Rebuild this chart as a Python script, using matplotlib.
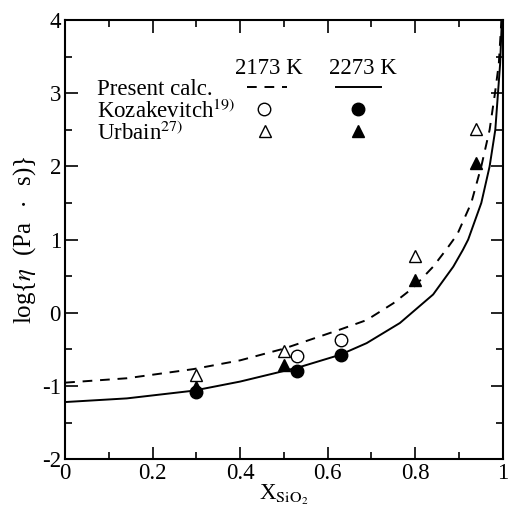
import matplotlib
matplotlib.use("Agg")
import matplotlib.pyplot as plt
from matplotlib.ticker import MultipleLocator, FixedLocator

plt.rcParams['font.family'] = ['Liberation Serif', 'DejaVu Serif']
plt.rcParams['mathtext.fontset'] = 'stix'

# Calculated curves
calc_2173_x = [0.0, 0.141, 0.293, 0.4, 0.5, 0.537, 0.628, 0.689, 0.75, 0.795, 0.841, 0.873,
               0.896, 0.928, 0.951, 0.970, 0.982, 0.991, 0.997]
calc_2173_y = [-0.955, -0.895, -0.77, -0.65, -0.49, -0.415, -0.23, -0.10, 0.13, 0.34, 0.63, 0.88,
               1.07, 1.5, 2.0, 2.5, 2.99, 3.4, 4.0]
calc_2273_x = [0.0, 0.141, 0.293, 0.4, 0.483, 0.537, 0.628, 0.689, 0.765, 0.841, 0.887, 0.909,
               0.921, 0.951, 0.970, 0.983, 0.989, 0.994, 0.998]
calc_2273_y = [-1.22, -1.17, -1.065, -0.94, -0.82, -0.74, -0.575, -0.415, -0.14, 0.25, 0.63, 0.86,
               1.0, 1.5, 2.0, 2.5, 2.99, 3.4, 4.0]

# Experimental data
koz_2173_x = [0.53, 0.63]
koz_2173_y = [-0.59, -0.37]
koz_2273_x = [0.30, 0.53, 0.63]
koz_2273_y = [-1.08, -0.80, -0.58]
urb_2173_x = [0.30, 0.50, 0.80, 0.94]
urb_2173_y = [-0.85, -0.52, 0.78, 2.51]
urb_2273_x = [0.30, 0.50, 0.80, 0.94]
urb_2273_y = [-1.01, -0.72, 0.45, 2.04]

x_ticks = [0, 0.2, 0.4, 0.6, 0.8, 1.0]
x_ticklabels = ['0', '0.2', '0.4', '0.6', '0.8', '1']
y_ticks = [-2, -1, 0, 1, 2, 3, 4]
y_ticklabels = ['-2', '-1', '0', '1', '2', '3', '4']

fig = plt.figure(figsize=(5.13, 5.13), dpi=100)
ax = fig.add_axes([0.127, 0.105, 0.853, 0.856])

ax.plot(calc_2173_x, calc_2173_y, color='black', lw=1.4, dashes=(5, 4))
ax.plot(calc_2273_x, calc_2273_y, color='black', lw=1.4)

ms = 9
ax.plot(urb_2273_x, urb_2273_y, '^', color='black', ms=ms, ls='none')
ax.plot(urb_2173_x, urb_2173_y, '^', mfc='white', mec='black', mew=1.0, ms=ms, ls='none')
ax.plot(koz_2173_x, koz_2173_y, 'o', mfc='white', mec='black', mew=1.0, ms=ms, ls='none')
ax.plot(koz_2273_x, koz_2273_y, 'o', color='black', ms=ms, ls='none')

# Legend drawn as annotations
fs = 16.5
ax.text(0.073, 2.97, 'Present calc.', fontsize=fs, va='baseline', ha='left')
ax.text(0.073, 2.66, r'Kozakevitch$^{19)}$', fontsize=fs, va='baseline', ha='left')
ax.text(0.073, 2.36, r'Urbain$^{27)}$', fontsize=fs, va='baseline', ha='left')
ax.text(0.466, 3.26, '2173 K', fontsize=fs, va='baseline', ha='center')
ax.text(0.680, 3.26, '2273 K', fontsize=fs, va='baseline', ha='center')
ax.plot([0.416, 0.507], [3.08, 3.08], color='black', lw=1.4, dashes=(5, 4))
ax.plot([0.619, 0.721], [3.08, 3.08], color='black', lw=1.4)
ax.plot([0.454], [2.78], 'o', mfc='white', mec='black', mew=1.0, ms=ms)
ax.plot([0.669], [2.78], 'o', color='black', ms=ms)
ax.plot([0.456], [2.48], '^', mfc='white', mec='black', mew=1.0, ms=ms)
ax.plot([0.669], [2.48], '^', color='black', ms=ms)

ax.set_xlim(0, 1)
ax.set_ylim(-2, 4)
ax.xaxis.set_major_locator(FixedLocator(x_ticks))
ax.xaxis.set_minor_locator(MultipleLocator(0.1))
ax.yaxis.set_major_locator(FixedLocator(y_ticks))
ax.yaxis.set_minor_locator(MultipleLocator(0.5))
ax.set_xticklabels(x_ticklabels)
ax.set_yticklabels(y_ticklabels)
ax.tick_params(which='both', direction='in', top=True, right=True, labelsize=fs, width=1.2)
ax.tick_params(which='major', length=9)
ax.tick_params(which='minor', length=5)
ax.tick_params(axis='x', pad=3)
ax.tick_params(axis='y', pad=3)
for s in ax.spines.values():
    s.set_linewidth(1.5)

ax.set_xlabel(r'X$_{\mathrm{SiO}_2}$', fontsize=fs, labelpad=-1)
ax.set_ylabel(r'log{$\eta$  (Pa $\;\cdot\;$ s)}', fontsize=18, labelpad=3)

fig.savefig('out.png', dpi=100)
